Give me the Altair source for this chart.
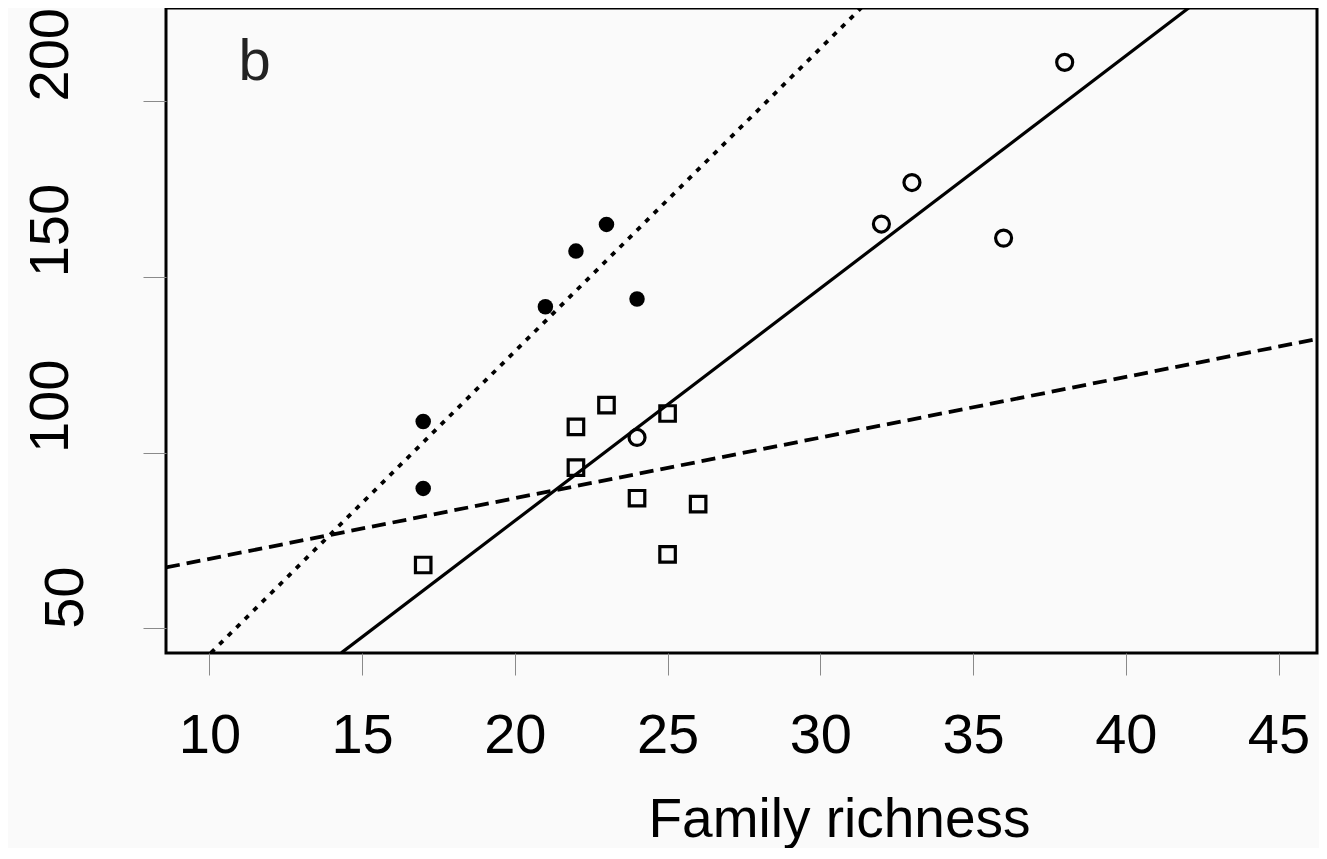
import altair as alt
import pandas as pd

# ---- data ----
filled_x = [17, 17, 21, 22, 23, 24]
filled_y = [108.8, 89.8, 141.5, 157.3, 164.9, 143.7]

open_x = [24, 32, 33, 36, 38]
open_y = [104.3, 165.0, 176.8, 161.0, 211.0]

square_x = [17, 22, 22, 23, 24, 25, 25, 26]
square_y = [68.0, 107.3, 95.7, 113.5, 87.0, 111.1, 71.0, 85.3]

dotted_x = [10.05, 31.35]
dotted_y = [43.0, 226.6]
solid_x = [14.32, 42.08]
solid_y = [43.0, 226.6]
dashed_x = [8.58, 46.26]
dashed_y = [67.3, 132.3]

x_ticks = [10, 15, 20, 25, 30, 35, 40, 45]
y_ticks = [50, 100, 150, 200]
x_domain = [8.58, 46.26]
y_domain = [42.97, 226.46]

panel_label = ["b"]
panel_x = [10.95]
panel_y = [206.0]

FONT = "Liberation Sans"

xs = alt.Scale(domain=x_domain, nice=False, zero=False)
ys = alt.Scale(domain=y_domain, nice=False, zero=False)

x_axis = alt.Axis(
    values=x_ticks, title="Family richness", grid=False, domain=False,
    labelFont=FONT, labelFontSize=56, labelColor="black",
    labelBaseline="alphabetic", labelPadding=77, labelFlush=False, labelOverlap=False,
    tickSize=22, tickColor="#8a8a8a", tickWidth=1,
    titleFont=FONT, titleFontSize=55, titleFontWeight="normal", titleColor="black",
    titleX=673, titleY=183, titleBaseline="alphabetic", titleAlign="center",
)
y_axis = alt.Axis(
    values=y_ticks, title=None, grid=False, domain=False,
    labelFont=FONT, labelFontSize=56, labelColor="black",
    labelAngle=270, labelAlign="left", labelBaseline="alphabetic",
    labelPadding={"condition": {"test": "datum.value == 50", "value": 61}, "value": 76},
    labelFlush=False, labelOverlap=False,
    tickSize=23, tickColor="#8a8a8a", tickWidth=1,
)


def line_df(x, y):
    return pd.DataFrame({"x": x, "y": y})


base_enc = dict(
    x=alt.X("x:Q", scale=xs, axis=x_axis),
    y=alt.Y("y:Q", scale=ys, axis=y_axis),
)

dotted = alt.Chart(line_df(dotted_x, dotted_y)).mark_line(
    color="black", strokeWidth=3.8, strokeDash=[5, 7], clip=True
).encode(**base_enc)
solid = alt.Chart(line_df(solid_x, solid_y)).mark_line(
    color="black", strokeWidth=3.2, clip=True
).encode(**base_enc)
dashed = alt.Chart(line_df(dashed_x, dashed_y)).mark_line(
    color="black", strokeWidth=3.8, strokeDash=[14, 7], clip=True
).encode(**base_enc)

filled = alt.Chart(line_df(filled_x, filled_y)).mark_point(
    shape="circle", filled=True, color="black", size=240, opacity=1
).encode(**base_enc)
opened = alt.Chart(line_df(open_x, open_y)).mark_point(
    shape="circle", filled=False, color="black", size=256, strokeWidth=3.2, opacity=1
).encode(**base_enc)
squares = alt.Chart(line_df(square_x, square_y)).mark_point(
    shape="square", filled=False, color="black", size=240, strokeWidth=3.2, opacity=1
).encode(**base_enc)

label = alt.Chart(pd.DataFrame({"x": panel_x, "y": panel_y, "t": panel_label})).mark_text(
    font=FONT, fontSize=58, color="#222222", align="left", baseline="alphabetic"
).encode(x=alt.X("x:Q", scale=xs, axis=x_axis), y=alt.Y("y:Q", scale=ys, axis=y_axis), text="t:N")

chart = alt.layer(dotted, solid, dashed, squares, opened, filled, label).properties(
    width=1151, height=645,
    autosize=alt.AutoSizeParams(type="none"),
    padding={"left": 158, "top": 0, "right": 2, "bottom": 195},
    background="#fafafa",
).configure_view(stroke="black", strokeWidth=3, fill="#fafafa")

chart.save("out.html", embed_options={"renderer": "svg", "actions": False})
